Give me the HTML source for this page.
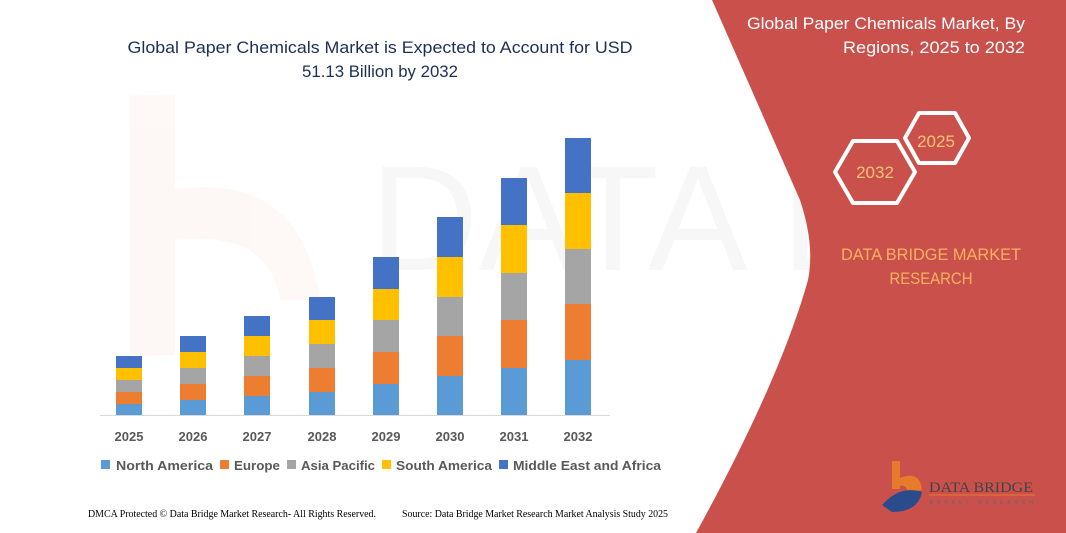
<!DOCTYPE html>
<html><head><meta charset="utf-8"><style>
html,body{margin:0;padding:0;background:#fff;}
svg{display:block;}
</style></head><body>
<svg width="1066" height="533" viewBox="0 0 1066 533" xmlns="http://www.w3.org/2000/svg">
<rect width="1066" height="533" fill="#fff"/>
<g opacity="0.035" fill="#E0602A">
<rect x="130" y="95" width="45" height="260"/>
<path d="M175 190 Q300 170 320 300 L280 300 Q270 230 175 240Z"/>
</g>
<g opacity="0.035" fill="#444" font-family="Liberation Sans, sans-serif" font-size="150">
<text x="370" y="270">DATA BRIDGE</text>
</g>
<path d="M712 0 L1066 0 L1066 533 L696 533 Q780 380 808 280 Q815 245 800 200 Z" fill="#C9504B"/>
<text x="1025" y="29" text-anchor="end" fill="#fff" font-family="Liberation Sans, sans-serif" font-size="17" textLength="278" lengthAdjust="spacingAndGlyphs">Global Paper Chemicals Market, By</text>
<text x="1025" y="53" text-anchor="end" fill="#fff" font-family="Liberation Sans, sans-serif" font-size="17" textLength="182" lengthAdjust="spacingAndGlyphs">Regions, 2025 to 2032</text>
<polygon points="905,138 919,113 955,113 969,138 955,163 919,163" fill="none" stroke="#fff" stroke-width="4" stroke-linejoin="round"/>
<polygon points="835,172 853,141 897,141 915,172 897,203 853,203" fill="none" stroke="#fff" stroke-width="4" stroke-linejoin="round"/>
<text x="936" y="147" text-anchor="middle" fill="#F7C274" font-family="Liberation Sans, sans-serif" font-size="17">2025</text>
<text x="875" y="178" text-anchor="middle" fill="#F7C274" font-family="Liberation Sans, sans-serif" font-size="17">2032</text>
<text x="931" y="260" text-anchor="middle" fill="#F9B060" font-family="Liberation Sans, sans-serif" font-size="17" textLength="180" lengthAdjust="spacingAndGlyphs">DATA BRIDGE MARKET</text>
<text x="931" y="284" text-anchor="middle" fill="#F9B060" font-family="Liberation Sans, sans-serif" font-size="17" textLength="83" lengthAdjust="spacingAndGlyphs">RESEARCH</text>
<rect x="892" y="461" width="8" height="28" fill="#E87A2C"/>
<path d="M900 478 Q920 470 922 490 L908 492 Q906 484 900 486Z" fill="#E87A2C"/>
<path d="M882 505 Q900 485 922 492 Q918 512 892 512 Z" fill="#2A4B8C"/>
<text x="929" y="492" fill="#444" font-family="Liberation Serif, serif" font-size="15" textLength="104" lengthAdjust="spacingAndGlyphs">DATA BRIDGE</text>
<line x1="929" y1="495" x2="1035" y2="495" stroke="#E87A2C" stroke-width="1"/>
<text x="929" y="504" fill="#666" font-family="Liberation Sans, sans-serif" font-size="5" textLength="104" lengthAdjust="spacing">MARKET RESEARCH</text>
<text x="380" y="53" text-anchor="middle" fill="#1C2F55" font-family="Liberation Sans, sans-serif" font-size="17" textLength="505" lengthAdjust="spacingAndGlyphs">Global Paper Chemicals Market is Expected to Account for USD</text>
<text x="380" y="77" text-anchor="middle" fill="#1C2F55" font-family="Liberation Sans, sans-serif" font-size="17" textLength="156" lengthAdjust="spacingAndGlyphs">51.13 Billion by 2032</text>
<g>
<rect x="116" y="404" width="26" height="11" fill="#5B9BD5"/><rect x="116" y="392" width="26" height="12" fill="#ED7D31"/><rect x="116" y="380" width="26" height="12" fill="#A5A5A5"/><rect x="116" y="368" width="26" height="12" fill="#FFC000"/><rect x="116" y="356" width="26" height="12" fill="#4472C4"/>
<rect x="180" y="400" width="26" height="15" fill="#5B9BD5"/><rect x="180" y="384" width="26" height="16" fill="#ED7D31"/><rect x="180" y="368" width="26" height="16" fill="#A5A5A5"/><rect x="180" y="352" width="26" height="16" fill="#FFC000"/><rect x="180" y="336" width="26" height="16" fill="#4472C4"/>
<rect x="244" y="396" width="26" height="19" fill="#5B9BD5"/><rect x="244" y="376" width="26" height="20" fill="#ED7D31"/><rect x="244" y="356" width="26" height="20" fill="#A5A5A5"/><rect x="244" y="336" width="26" height="20" fill="#FFC000"/><rect x="244" y="316" width="26" height="20" fill="#4472C4"/>
<rect x="309" y="392" width="26" height="23" fill="#5B9BD5"/><rect x="309" y="368" width="26" height="24" fill="#ED7D31"/><rect x="309" y="344" width="26" height="24" fill="#A5A5A5"/><rect x="309" y="320" width="26" height="24" fill="#FFC000"/><rect x="309" y="297" width="26" height="23" fill="#4472C4"/>
<rect x="373" y="384" width="26" height="31" fill="#5B9BD5"/><rect x="373" y="352" width="26" height="32" fill="#ED7D31"/><rect x="373" y="320" width="26" height="32" fill="#A5A5A5"/><rect x="373" y="289" width="26" height="31" fill="#FFC000"/><rect x="373" y="257" width="26" height="32" fill="#4472C4"/>
<rect x="437" y="376" width="26" height="39" fill="#5B9BD5"/><rect x="437" y="336" width="26" height="40" fill="#ED7D31"/><rect x="437" y="297" width="26" height="39" fill="#A5A5A5"/><rect x="437" y="257" width="26" height="40" fill="#FFC000"/><rect x="437" y="217" width="26" height="40" fill="#4472C4"/>
<rect x="501" y="368" width="26" height="47" fill="#5B9BD5"/><rect x="501" y="320" width="26" height="48" fill="#ED7D31"/><rect x="501" y="273" width="26" height="47" fill="#A5A5A5"/><rect x="501" y="225" width="26" height="48" fill="#FFC000"/><rect x="501" y="178" width="26" height="47" fill="#4472C4"/>
<rect x="565" y="360" width="26" height="55" fill="#5B9BD5"/><rect x="565" y="304" width="26" height="56" fill="#ED7D31"/><rect x="565" y="249" width="26" height="55" fill="#A5A5A5"/><rect x="565" y="193" width="26" height="56" fill="#FFC000"/><rect x="565" y="138" width="26" height="55" fill="#4472C4"/>
</g>
<line x1="100" y1="415.5" x2="610" y2="415.5" stroke="#D9D9D9" stroke-width="1"/>
<g font-family="Liberation Sans, sans-serif" font-size="13" font-weight="bold" fill="#595959" text-anchor="middle">
<text x="129" y="441">2025</text><text x="193" y="441">2026</text><text x="257" y="441">2027</text><text x="322" y="441">2028</text><text x="386" y="441">2029</text><text x="450" y="441">2030</text><text x="514" y="441">2031</text><text x="578" y="441">2032</text>
</g>
<g font-family="Liberation Sans, sans-serif" font-size="13" font-weight="bold" fill="#595959">
<rect x="101" y="460" width="9" height="9" fill="#5B9BD5"/><text x="116" y="470" textLength="97" lengthAdjust="spacingAndGlyphs">North America</text>
<rect x="220" y="460" width="9" height="9" fill="#ED7D31"/><text x="234" y="470" textLength="46" lengthAdjust="spacingAndGlyphs">Europe</text>
<rect x="287" y="460" width="9" height="9" fill="#A5A5A5"/><text x="301" y="470" textLength="74" lengthAdjust="spacingAndGlyphs">Asia Pacific</text>
<rect x="382" y="460" width="9" height="9" fill="#FFC000"/><text x="396" y="470" textLength="96" lengthAdjust="spacingAndGlyphs">South America</text>
<rect x="499" y="460" width="9" height="9" fill="#4472C4"/><text x="513" y="470" textLength="148" lengthAdjust="spacingAndGlyphs">Middle East and Africa</text>
</g>
<g font-family="Liberation Serif, serif" font-size="10" fill="#000">
<text x="88" y="517" textLength="288" lengthAdjust="spacingAndGlyphs">DMCA Protected © Data Bridge Market Research- All Rights Reserved.</text>
<text x="402" y="517" textLength="266" lengthAdjust="spacingAndGlyphs">Source: Data Bridge Market Research Market Analysis Study 2025</text>
</g>
</svg>
</body></html>
